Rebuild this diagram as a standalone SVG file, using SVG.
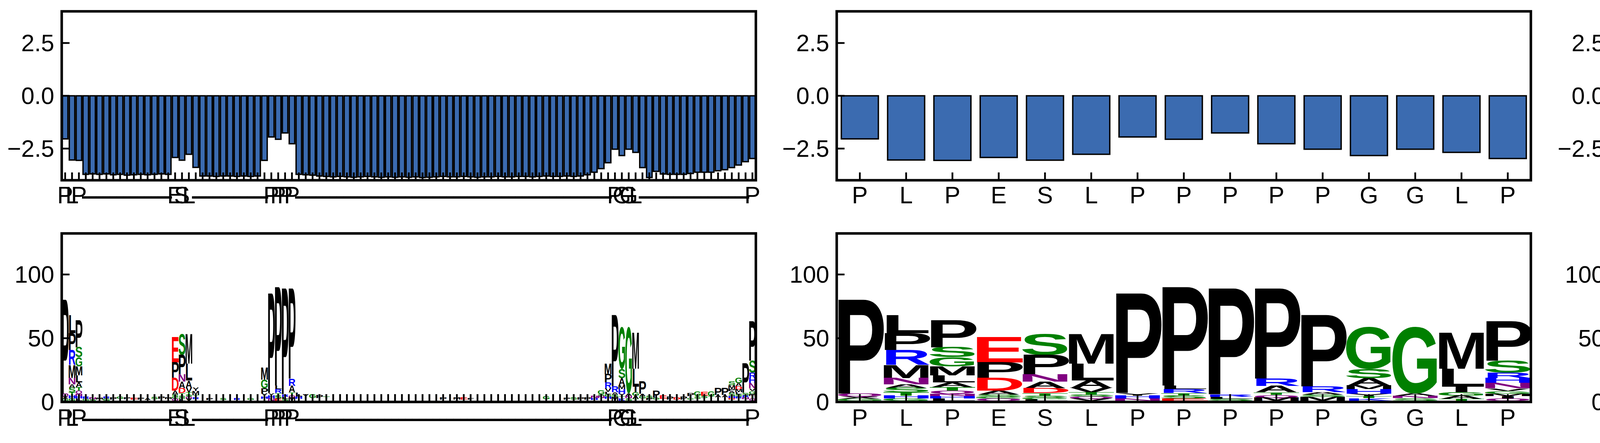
<svg xmlns="http://www.w3.org/2000/svg" xmlns:xlink="http://www.w3.org/1999/xlink" width="5933" height="1133" viewBox="0 0 5933 1133">
<style>
text{font-family:"Liberation Sans",Arial,sans-serif;font-weight:bold;font-size:100px;text-anchor:middle}
.lab{font-weight:normal;font-size:61px;fill:#000}
.dsh{font-size:78px}
.yl{text-anchor:end}
.k{fill:#000}.g{fill:#008000}.b{fill:#0000ff}.r{fill:#ff0000}.p{fill:#800080}
.bar rect{fill:#3b6bb0;stroke:#000;stroke-width:3.5}
.sp{fill:none;stroke:#000;stroke-width:6.5}
.tk{fill:none;stroke:#000;stroke-width:4.5}
</style>
<defs>
<path id="xt1" d="M166.8 0v20M184.4 0v20M202 0v20M219.6 0v20M237.2 0v20M254.8 0v20M272.4 0v20M290 0v20M307.5 0v20M325.1 0v20M342.7 0v20M360.3 0v20M377.9 0v20M395.5 0v20M413.1 0v20M430.7 0v20M448.3 0v20M465.9 0v20M483.5 0v20M501.1 0v20M518.7 0v20M536.3 0v20M553.9 0v20M571.5 0v20M589.1 0v20M606.6 0v20M624.2 0v20M641.8 0v20M659.4 0v20M677 0v20M694.6 0v20M712.2 0v20M729.8 0v20M747.4 0v20M765 0v20M782.6 0v20M800.2 0v20M817.8 0v20M835.4 0v20M853 0v20M870.6 0v20M888.1 0v20M905.7 0v20M923.3 0v20M940.9 0v20M958.5 0v20M976.1 0v20M993.7 0v20M1011.3 0v20M1028.9 0v20M1046.5 0v20M1064.1 0v20M1081.7 0v20M1099.3 0v20M1116.9 0v20M1134.5 0v20M1152.1 0v20M1169.6 0v20M1187.2 0v20M1204.8 0v20M1222.4 0v20M1240 0v20M1257.6 0v20M1275.2 0v20M1292.8 0v20M1310.4 0v20M1328 0v20M1345.6 0v20M1363.2 0v20M1380.8 0v20M1398.4 0v20M1416 0v20M1433.6 0v20M1451.1 0v20M1468.7 0v20M1486.3 0v20M1503.9 0v20M1521.5 0v20M1539.1 0v20M1556.7 0v20M1574.3 0v20M1591.9 0v20M1609.5 0v20M1627.1 0v20M1644.7 0v20M1662.3 0v20M1679.9 0v20M1697.5 0v20M1715.1 0v20M1732.6 0v20M1750.2 0v20M1767.8 0v20M1785.4 0v20M1803 0v20M1820.6 0v20M1838.2 0v20M1855.8 0v20M1873.4 0v20M1891 0v20M1908.6 0v20M1926.2 0v20"/>
<path id="xt2" d="M2201.2 0v20M2319.7 0v20M2438.2 0v20M2556.7 0v20M2675.2 0v20M2793.6 0v20M2912.1 0v20M3030.6 0v20M3149.1 0v20M3267.5 0v20M3386 0v20M3504.5 0v20M3623 0v20M3741.4 0v20M3859.9 0v20"/>
<g id="m0">
<text class="k" transform="matrix(2.045 0 0 3.488 0 1006.7)">P</text>
<text class="p" transform="matrix(1.585 0 0 .106 0 1014)">Q</text>
<text class="k" transform="matrix(1.687 0 0 .087 0 1020)">X</text>
<text class="g" transform="matrix(1.679 0 0 .073 0 1025)">G</text>
</g>
<g id="m1">
<text class="k" transform="matrix(2.083 0 0 .669 0 851.7)">L</text>
<text class="k" transform="matrix(2.045 0 0 .629 0 895)">P</text>
<text class="b" transform="matrix(1.739 0 0 .557 0 933.3)">R</text>
<text class="k" transform="matrix(1.63 0 0 .485 0 966.7)">M</text>
<text class="p" transform="matrix(1.94 0 0 .233 0 982.7)">N</text>
<text class="k" transform="matrix(1.563 0 0 .131 0 991.7)">A</text>
<text class="g" transform="matrix(1.92 0 0 .169 0 1003.3)">S</text>
<text class="g" transform="matrix(1.97 0 0 .122 0 1011.7)">T</text>
<text class="b" transform="matrix(1.94 0 0 .11 0 1019.3)">H</text>
<text class="g" transform="matrix(1.679 0 0 .083 0 1025)">G</text>
</g>
<g id="m2">
<text class="k" transform="matrix(2.045 0 0 1.007 0 888.3)">P</text>
<text class="g" transform="matrix(1.92 0 0 .363 0 913.3)">S</text>
<text class="g" transform="matrix(1.679 0 0 .34 0 936.7)">G</text>
<text class="k" transform="matrix(1.63 0 0 .339 0 960)">M</text>
<text class="k" transform="matrix(2.083 0 0 .266 0 978.3)">L</text>
<text class="k" transform="matrix(1.563 0 0 .17 0 990)">A</text>
<text class="g" transform="matrix(1.97 0 0 .135 0 999.3)">T</text>
<text class="p" transform="matrix(1.585 0 0 .108 0 1006.7)">Q</text>
<text class="p" transform="matrix(1.94 0 0 .087 0 1012.7)">N</text>
<text class="b" transform="matrix(1.94 0 0 .096 0 1019.3)">H</text>
<text class="k" transform="matrix(2.083 0 0 .083 0 1025)">L</text>
</g>
<g id="m3">
<text class="r" transform="matrix(2.083 0 0 .945 0 926.7)">E</text>
<text class="k" transform="matrix(2.045 0 0 .571 0 966)">P</text>
<text class="r" transform="matrix(1.875 0 0 .484 0 999.3)">D</text>
<text class="k" transform="matrix(1.563 0 0 .145 0 1009.3)">A</text>
<text class="g" transform="matrix(1.92 0 0 .083 0 1015)">S</text>
<text class="g" transform="matrix(1.679 0 0 .0625 0 1019.3)">G</text>
<text class="p" transform="matrix(1.585 0 0 .083 0 1025)">Q</text>
</g>
<g id="m4">
<text class="g" transform="matrix(1.92 0 0 .751 0 906.7)">S</text>
<text class="k" transform="matrix(2.045 0 0 .727 0 956.7)">P</text>
<text class="p" transform="matrix(1.94 0 0 .281 0 976)">N</text>
<text class="k" transform="matrix(1.563 0 0 .243 0 992.7)">A</text>
<text class="r" transform="matrix(1.875 0 0 .179 0 1005)">D</text>
<text class="g" transform="matrix(1.97 0 0 .097 0 1011.7)">T</text>
<text class="g" transform="matrix(1.92 0 0 .073 0 1016.7)">S</text>
<text class="g" transform="matrix(1.679 0 0 .058 0 1020.7)">G</text>
<text class="k" transform="matrix(2.083 0 0 .0625 0 1025)">L</text>
</g>
<g id="m5">
<text class="k" transform="matrix(1.63 0 0 1.09 0 930)">M</text>
<text class="k" transform="matrix(2.083 0 0 .629 0 973.3)">L</text>
<text class="k" transform="matrix(1.563 0 0 .267 0 991.7)">A</text>
<text class="k" transform="matrix(1.687 0 0 .169 0 1003.3)">V</text>
<text class="g" transform="matrix(1.97 0 0 .087 0 1009.3)">T</text>
<text class="g" transform="matrix(1.92 0 0 .068 0 1014)">S</text>
<text class="p" transform="matrix(1.585 0 0 .077 0 1019.3)">Q</text>
<text class="k" transform="matrix(1.687 0 0 .083 0 1025)">V</text>
</g>
<g id="m6">
<text class="k" transform="matrix(2.045 0 0 3.696 0 1005)">P</text>
<text class="k" transform="matrix(1.687 0 0 .097 0 1011.7)">Y</text>
<text class="b" transform="matrix(1.94 0 0 .11 0 1019.3)">H</text>
<text class="p" transform="matrix(1.94 0 0 .083 0 1025)">N</text>
</g>
<g id="m7">
<text class="k" transform="matrix(2.045 0 0 3.654 0 986)">P</text>
<text class="k" transform="matrix(2.083 0 0 .131 0 995)">L</text>
<text class="b" transform="matrix(1.739 0 0 .145 0 1005)">R</text>
<text class="g" transform="matrix(1.97 0 0 .097 0 1011.7)">T</text>
<text class="g" transform="matrix(1.92 0 0 .106 0 1019)">S</text>
<text class="r" transform="matrix(2.083 0 0 .087 0 1025)">E</text>
</g>
<g id="m8">
<text class="k" transform="matrix(2.045 0 0 3.929 0 1008.3)">P</text>
<text class="b" transform="matrix(1.739 0 0 .097 0 1015)">R</text>
<text class="k" transform="matrix(2.083 0 0 .073 0 1020)">L</text>
<text class="g" transform="matrix(1.92 0 0 .073 0 1025)">S</text>
</g>
<g id="m9">
<text class="k" transform="matrix(2.045 0 0 3.347 0 968.3)">P</text>
<text class="b" transform="matrix(1.739 0 0 .267 0 986.7)">R</text>
<text class="k" transform="matrix(1.563 0 0 .241 0 1003.3)">A</text>
<text class="g" transform="matrix(1.97 0 0 .097 0 1010)">T</text>
<text class="p" transform="matrix(1.585 0 0 .097 0 1016.7)">Q</text>
<text class="k" transform="matrix(1.63 0 0 .121 0 1025)">M</text>
</g>
<g id="m10">
<text class="k" transform="matrix(2.045 0 0 2.654 0 988.3)">P</text>
<text class="b" transform="matrix(1.739 0 0 .218 0 1003.3)">R</text>
<text class="k" transform="matrix(1.563 0 0 .087 0 1009.3)">A</text>
<text class="g" transform="matrix(1.92 0 0 .083 0 1015)">S</text>
<text class="k" transform="matrix(1.63 0 0 .145 0 1025)">M</text>
</g>
<g id="m11">
<text class="g" transform="matrix(1.679 0 0 1.516 0 943.3)">G</text>
<text class="g" transform="matrix(1.92 0 0 .34 0 966.7)">S</text>
<text class="k" transform="matrix(1.563 0 0 .266 0 985)">A</text>
<text class="k" transform="matrix(1.63 0 0 .145 0 995)">M</text>
<text class="b" transform="matrix(1.94 0 0 .17 0 1006.7)">H</text>
<text class="k" transform="matrix(1.687 0 0 .096 0 1013.3)">Y</text>
<text class="g" transform="matrix(1.97 0 0 .073 0 1018.3)">T</text>
<text class="b" transform="matrix(1.725 0 0 .097 0 1025)">K</text>
</g>
<g id="m12">
<text class="g" transform="matrix(1.679 0 0 2.413 0 1005)">G</text>
<text class="k" transform="matrix(1.563 0 0 .097 0 1011.7)">A</text>
<text class="p" transform="matrix(1.94 0 0 .096 0 1018.3)">N</text>
<text class="g" transform="matrix(1.92 0 0 .097 0 1025)">S</text>
</g>
<g id="m13">
<text class="k" transform="matrix(1.63 0 0 1.331 0 943.3)">M</text>
<text class="k" transform="matrix(2.083 0 0 .669 0 989.3)">L</text>
<text class="k" transform="matrix(2.083 0 0 .203 0 1003.3)">I</text>
<text class="g" transform="matrix(1.679 0 0 .122 0 1011.7)">G</text>
<text class="k" transform="matrix(1.563 0 0 .121 0 1020)">A</text>
<text class="g" transform="matrix(1.97 0 0 .073 0 1025)">T</text>
</g>
<g id="m14">
<text class="k" transform="matrix(2.045 0 0 1.468 0 922.7)">P</text>
<text class="g" transform="matrix(1.92 0 0 .445 0 953.3)">S</text>
<text class="b" transform="matrix(1.739 0 0 .195 0 966.7)">R</text>
<text class="b" transform="matrix(1.94 0 0 .183 0 979.3)">H</text>
<text class="p" transform="matrix(1.94 0 0 .203 0 993.3)">N</text>
<text class="k" transform="matrix(1.687 0 0 .097 0 1000)">V</text>
<text class="g" transform="matrix(1.679 0 0 .097 0 1006.7)">G</text>
<text class="k" transform="matrix(1.63 0 0 .096 0 1013.3)">M</text>
<text class="k" transform="matrix(2.083 0 0 .083 0 1019)">I</text>
<text class="p" transform="matrix(1.585 0 0 .087 0 1025)">Q</text>
</g>
</defs>
<rect width="5933" height="1133" fill="#fff"/>

<g id="panel-top-1">
<g class="bar" transform="translate(0 245)">
<rect x="159.8" width="14.07" height="110.2"/><rect x="177.4" width="14.07" height="164.2"/><rect x="195" width="14.07" height="165.2"/><rect x="212.5" width="14.07" height="200.9"/><rect x="230.1" width="14.07" height="199.8"/><rect x="247.7" width="14.07" height="200.9"/><rect x="265.3" width="14.07" height="199.8"/><rect x="282.9" width="14.07" height="202"/><rect x="300.5" width="14.07" height="200.9"/><rect x="318.1" width="14.07" height="203"/>
<rect x="335.7" width="14.07" height="202"/><rect x="353.3" width="14.07" height="200.9"/><rect x="370.9" width="14.07" height="202"/><rect x="388.5" width="14.07" height="200.9"/><rect x="406.1" width="14.07" height="199.8"/><rect x="423.7" width="14.07" height="200.9"/><rect x="441.3" width="14.07" height="157.7"/><rect x="458.9" width="14.07" height="164.7"/><rect x="476.5" width="14.07" height="149.6"/><rect x="494" width="14.07" height="183.1"/>
<rect x="511.6" width="14.07" height="205.2"/><rect x="529.2" width="14.07" height="205.2"/><rect x="546.8" width="14.07" height="206.3"/><rect x="564.4" width="14.07" height="205.2"/><rect x="582" width="14.07" height="205.2"/><rect x="599.6" width="14.07" height="206.3"/><rect x="617.2" width="14.07" height="205.2"/><rect x="634.8" width="14.07" height="206.3"/><rect x="652.4" width="14.07" height="205.2"/><rect x="670" width="14.07" height="165.2"/>
<rect x="687.6" width="14.07" height="105.3"/><rect x="705.2" width="14.07" height="111.2"/><rect x="722.8" width="14.07" height="95"/><rect x="740.4" width="14.07" height="122.6"/><rect x="758" width="14.07" height="200.9"/><rect x="775.6" width="14.07" height="202"/><rect x="793.1" width="14.07" height="203"/><rect x="810.7" width="14.07" height="205.2"/><rect x="828.3" width="14.07" height="206.3"/><rect x="845.9" width="14.07" height="207.4"/>
<rect x="863.5" width="14.07" height="206.3"/><rect x="881.1" width="14.07" height="207.4"/><rect x="898.7" width="14.07" height="208.4"/><rect x="916.3" width="14.07" height="207.4"/><rect x="933.9" width="14.07" height="206.3"/><rect x="951.5" width="14.07" height="207.4"/><rect x="969.1" width="14.07" height="208.4"/><rect x="986.7" width="14.07" height="207.4"/><rect x="1004.3" width="14.07" height="208.4"/><rect x="1021.9" width="14.07" height="207.4"/>
<rect x="1039.5" width="14.07" height="208.4"/><rect x="1057.1" width="14.07" height="207.4"/><rect x="1074.6" width="14.07" height="209"/><rect x="1092.2" width="14.07" height="208.4"/><rect x="1109.8" width="14.07" height="207.4"/><rect x="1127.4" width="14.07" height="206.3"/><rect x="1145" width="14.07" height="207.4"/><rect x="1162.6" width="14.07" height="207.4"/><rect x="1180.2" width="14.07" height="206.3"/><rect x="1197.8" width="14.07" height="207.4"/>
<rect x="1215.4" width="14.07" height="208.4"/><rect x="1233" width="14.07" height="207.4"/><rect x="1250.6" width="14.07" height="207.4"/><rect x="1268.2" width="14.07" height="206.3"/><rect x="1285.8" width="14.07" height="207.4"/><rect x="1303.4" width="14.07" height="207.4"/><rect x="1321" width="14.07" height="206.3"/><rect x="1338.6" width="14.07" height="206.3"/><rect x="1356.2" width="14.07" height="207.4"/><rect x="1373.7" width="14.07" height="206.3"/>
<rect x="1391.3" width="14.07" height="205.2"/><rect x="1408.9" width="14.07" height="206.3"/><rect x="1426.5" width="14.07" height="206.3"/><rect x="1444.1" width="14.07" height="205.2"/><rect x="1461.7" width="14.07" height="206.3"/><rect x="1479.3" width="14.07" height="205.2"/><rect x="1496.9" width="14.07" height="202"/><rect x="1514.5" width="14.07" height="195.5"/><rect x="1532.1" width="14.07" height="186.3"/><rect x="1549.7" width="14.07" height="171.2"/>
<rect x="1567.3" width="14.07" height="136.6"/><rect x="1584.9" width="14.07" height="152.8"/><rect x="1602.5" width="14.07" height="136.6"/><rect x="1620.1" width="14.07" height="144.7"/><rect x="1637.7" width="14.07" height="183.6"/><rect x="1655.2" width="14.07" height="209"/><rect x="1672.8" width="14.07" height="193.3"/><rect x="1690.4" width="14.07" height="200"/><rect x="1708" width="14.07" height="200.9"/><rect x="1725.6" width="14.07" height="200.9"/>
<rect x="1743.2" width="14.07" height="200.9"/><rect x="1760.8" width="14.07" height="198.7"/><rect x="1778.4" width="14.07" height="195.5"/><rect x="1796" width="14.07" height="195.5"/><rect x="1813.6" width="14.07" height="195.5"/><rect x="1831.2" width="14.07" height="191.7"/><rect x="1848.8" width="14.07" height="189"/><rect x="1866.4" width="14.07" height="183.6"/><rect x="1884" width="14.07" height="177.1"/><rect x="1901.6" width="14.07" height="168.5"/>
<rect x="1919.2" width="14.07" height="160.4"/>
</g>
<use href="#xt1" class="tk" transform="translate(0 441)"/>
<path class="tk" d="M158 110h20M158 245h20M158 380h20"/>
<rect class="sp" x="158" y="29" width="1777" height="432"/>
<text class="lab yl" x="139" y="131">2.5</text>
<text class="lab yl" x="139" y="266">0.0</text>
<text class="lab yl" x="139" y="401">−2.5</text>
<text class="lab" y="520" x="166.8 184.4 202 219.6 237.2 254.8 272.4 290 307.5 325.1 342.7 360.3 377.9 395.5 413.1 430.7 448.3 465.9 483.5 501.1 518.7 536.3 553.9 571.5 589.1 606.6 624.2 641.8 659.4 677 694.6 712.2 729.8 747.4 765 782.6 800.2 817.8 835.4 853 870.6 888.1 905.7 923.3 940.9 958.5 976.1 993.7 1011.3 1028.9 1046.5 1064.1 1081.7 1099.3 1116.9 1134.5 1152.1 1169.6 1187.2 1204.8 1222.4 1240 1257.6 1275.2 1292.8 1310.4 1328 1345.6 1363.2 1380.8 1398.4 1416 1433.6 1451.1 1468.7 1486.3 1503.9 1521.5 1539.1 1556.7 1574.3 1591.9 1609.5 1627.1 1644.7 1662.3 1679.9 1697.5 1715.1 1732.6 1750.2 1767.8 1785.4 1803 1820.6 1838.2 1855.8 1873.4 1891 1908.6 1926.2">PLP<tspan class="dsh" dy="6">-------------</tspan><tspan dy="-6">ESL</tspan><tspan class="dsh" dy="6">-----------</tspan><tspan dy="-6">PPPP</tspan><tspan class="dsh" dy="6">----------------------------------------------</tspan><tspan dy="-6">PGGL</tspan><tspan class="dsh" dy="6">----------------</tspan><tspan dy="-6">P</tspan></text>
</g>

<g id="panel-top-2">
<g class="bar" transform="translate(0 245)">
<rect x="2153.8" width="94.8" height="110.2"/><rect x="2272.3" width="94.8" height="164.2"/><rect x="2390.8" width="94.8" height="165.2"/><rect x="2509.3" width="94.8" height="157.7"/><rect x="2627.8" width="94.8" height="164.7"/><rect x="2746.2" width="94.8" height="149.6"/><rect x="2864.7" width="94.8" height="105.3"/><rect x="2983.2" width="94.8" height="111.2"/><rect x="3101.7" width="94.8" height="95"/><rect x="3220.1" width="94.8" height="122.6"/><rect x="3338.6" width="94.8" height="136.6"/><rect x="3457.1" width="94.8" height="152.8"/><rect x="3575.6" width="94.8" height="136.6"/><rect x="3694" width="94.8" height="144.7"/><rect x="3812.5" width="94.8" height="160.4"/>
</g>
<use href="#xt2" class="tk" transform="translate(0 441)"/>
<path class="tk" d="M2142 110h20M2142 245h20M2142 380h20"/>
<rect class="sp" x="2142" y="29" width="1777" height="432"/>
<text class="lab yl" x="2123" y="131">2.5</text>
<text class="lab yl" x="2123" y="266">0.0</text>
<text class="lab yl" x="2123" y="401">−2.5</text>
<text class="lab" y="520" x="2201.2 2319.7 2438.2 2556.7 2675.2 2793.6 2912.1 3030.6 3149.1 3267.5 3386 3504.5 3623 3741.4 3859.9">PLPESLPPPPPGGLP</text>
</g>

<g id="panel-top-3">
<g class="bar" transform="translate(0 245)">
<rect x="4138.8" y="-16.7" width="94.8" height="16.7"/><rect x="4257.3" width="94.8" height="44.8"/><rect x="4375.8" width="94.8" height="24.8"/><rect x="4494.3" width="94.8" height="88"/><rect x="4612.8" width="94.8" height="72.4"/><rect x="4731.2" width="94.8" height="13.5"/><rect x="4849.7" y="-41.6" width="94.8" height="41.6"/><rect x="4968.2" y="-63.2" width="94.8" height="63.2"/><rect x="5086.7" y="-72.9" width="94.8" height="72.9"/><rect x="5205.1" y="-56.7" width="94.8" height="56.7"/><rect x="5323.6" y="-43.2" width="94.8" height="43.2"/><rect x="5442.1" width="94.8" height="45.9"/><rect x="5560.6" width="94.8" height="37.8"/><rect x="5679" width="94.8" height="1.1"/><rect x="5797.5" width="94.8" height="17.8"/>
</g>
<use href="#xt2" class="tk" transform="translate(1985 441)"/>
<path class="tk" d="M4127 110h20M4127 245h20M4127 380h20"/>
<rect class="sp" x="4127" y="29" width="1777" height="432"/>
<text class="lab yl" x="4108" y="131">2.5</text>
<text class="lab yl" x="4108" y="266">0.0</text>
<text class="lab yl" x="4108" y="401">−2.5</text>
<text class="lab" y="520" x="4186.2 4304.7 4423.2 4541.7 4660.2 4778.6 4897.1 5015.6 5134.1 5252.5 5371 5489.5 5608 5726.4 5844.9">PLPESLPPPPPGGLP</text>
</g>

<g id="panel-bottom-1">
<use href="#m0" transform="translate(166.8 0) scale(.1485 1)"/>
<use href="#m1" transform="translate(184.4 0) scale(.1485 1)"/>
<use href="#m2" transform="translate(202 0) scale(.1485 1)"/>
<use href="#m3" transform="translate(448.3 0) scale(.1485 1)"/>
<use href="#m4" transform="translate(465.9 0) scale(.1485 1)"/>
<use href="#m5" transform="translate(483.5 0) scale(.1485 1)"/>
<use href="#m6" transform="translate(694.6 0) scale(.1485 1)"/>
<use href="#m7" transform="translate(712.2 0) scale(.1485 1)"/>
<use href="#m8" transform="translate(729.8 0) scale(.1485 1)"/>
<use href="#m9" transform="translate(747.4 0) scale(.1485 1)"/>
<use href="#m10" transform="translate(1574.3 0) scale(.1485 1)"/>
<use href="#m11" transform="translate(1591.9 0) scale(.1485 1)"/>
<use href="#m12" transform="translate(1609.5 0) scale(.1485 1)"/>
<use href="#m13" transform="translate(1627.1 0) scale(.1485 1)"/>
<use href="#m14" transform="translate(1926.2 0) scale(.1485 1)"/>
<g transform="translate(219.6 0) scale(.1485 1)"><text class="b" transform="matrix(1.739 0 0 .087 0 1020)">R</text><text class="g" transform="matrix(1.679 0 0 .073 0 1025)">G</text></g>
<g transform="translate(237.2 0) scale(.1485 1)"><text class="p" transform="matrix(1.94 0 0 .073 0 1021)">N</text><text class="g" transform="matrix(1.92 0 0 .058 0 1025)">S</text></g>
<g transform="translate(254.8 0) scale(.1485 1)"><text class="k" transform="matrix(1.63 0 0 .073 0 1022)">M</text></g>
<g transform="translate(272.4 0) scale(.1485 1)"><text class="b" transform="matrix(1.739 0 0 .073 0 1019)">R</text><text class="g" transform="matrix(1.679 0 0 .087 0 1025)">G</text></g>
<g transform="translate(290 0) scale(.1485 1)"><text class="k" transform="matrix(2.045 0 0 .087 0 1022)">P</text></g>
<g transform="translate(307.5 0) scale(.1485 1)"><text class="g" transform="matrix(1.679 0 0 .087 0 1020)">G</text></g>
<g transform="translate(325.1 0) scale(.1485 1)"><text class="k" transform="matrix(2.045 0 0 .073 0 1021)">P</text></g>
<g transform="translate(342.7 0) scale(.1485 1)"><text class="r" transform="matrix(2.083 0 0 .073 0 1022)">E</text></g>
<g transform="translate(360.3 0) scale(.1485 1)"><text class="k" transform="matrix(2.045 0 0 .073 0 1022)">P</text></g>
<g transform="translate(377.9 0) scale(.1485 1)"><text class="k" transform="matrix(1.563 0 0 .073 0 1023)">A</text></g>
<g transform="translate(395.5 0) scale(.1485 1)"><text class="g" transform="matrix(1.92 0 0 .087 0 1021)">S</text></g>
<g transform="translate(413.1 0) scale(.1485 1)"><text class="k" transform="matrix(2.045 0 0 .087 0 1020)">P</text></g>
<g transform="translate(430.7 0) scale(.1485 1)"><text class="k" transform="matrix(1.63 0 0 .073 0 1021)">M</text></g>
<g transform="translate(501.1 0) scale(.1485 1)"><text class="k" transform="matrix(1.687 0 0 .131 0 1000)">Y</text><text class="k" transform="matrix(1.63 0 0 .145 0 1010)">M</text><text class="g" transform="matrix(1.97 0 0 .087 0 1016)">T</text><text class="b" transform="matrix(1.739 0 0 .073 0 1021)">R</text></g>
<g transform="translate(536.3 0) scale(.1485 1)"><text class="k" transform="matrix(2.045 0 0 .073 0 1023)">P</text></g>
<g transform="translate(571.5 0) scale(.1485 1)"><text class="g" transform="matrix(1.92 0 0 .073 0 1023)">S</text></g>
<g transform="translate(606.6 0) scale(.1485 1)"><text class="b" transform="matrix(1.739 0 0 .073 0 1023)">R</text></g>
<g transform="translate(641.8 0) scale(.1485 1)"><text class="g" transform="matrix(1.679 0 0 .073 0 1023)">G</text></g>
<g transform="translate(677 0) scale(.1485 1)"><text class="k" transform="matrix(1.63 0 0 .451 0 971)">M</text><text class="g" transform="matrix(1.679 0 0 .32 0 993)">G</text><text class="k" transform="matrix(2.045 0 0 .203 0 1007)">P</text><text class="k" transform="matrix(1.687 0 0 .102 0 1014)">Y</text><text class="b" transform="matrix(1.94 0 0 .087 0 1020)">H</text></g>
<g transform="translate(765 0) scale(.1485 1)"><text class="k" transform="matrix(2.083 0 0 .145 0 1014)">L</text><text class="b" transform="matrix(1.94 0 0 .087 0 1020)">H</text></g>
<g transform="translate(782.6 0) scale(.1485 1)"><text class="k" transform="matrix(1.687 0 0 .116 0 1016)">Y</text></g>
<g transform="translate(800.2 0) scale(.1485 1)"><text class="g" transform="matrix(1.679 0 0 .145 0 1018)">G</text></g>
<g transform="translate(817.8 0) scale(.1485 1)"><text class="k" transform="matrix(2.045 0 0 .116 0 1018)">P</text></g>
<g transform="translate(835.4 0) scale(.1485 1)"><text class="g" transform="matrix(1.97 0 0 .087 0 1020)">T</text></g>
<g transform="translate(1134.5 0) scale(.1485 1)"><text class="k" transform="matrix(2.045 0 0 .087 0 1022)">P</text></g>
<g transform="translate(1169.6 0) scale(.1485 1)"><text class="k" transform="matrix(1.63 0 0 .087 0 1022)">M</text></g>
<g transform="translate(1187.2 0) scale(.1485 1)"><text class="r" transform="matrix(2.083 0 0 .087 0 1022)">E</text></g>
<g transform="translate(1204.8 0) scale(.1485 1)"><text class="k" transform="matrix(2.083 0 0 .058 0 1022)">F</text></g>
<g transform="translate(1398.4 0) scale(.1485 1)"><text class="g" transform="matrix(1.679 0 0 .102 0 1021)">G</text></g>
<g transform="translate(1451.1 0) scale(.1485 1)"><text class="k" transform="matrix(2.045 0 0 .073 0 1022)">P</text></g>
<g transform="translate(1468.7 0) scale(.1485 1)"><text class="g" transform="matrix(1.92 0 0 .087 0 1022)">S</text></g>
<g transform="translate(1486.3 0) scale(.1485 1)"><text class="k" transform="matrix(2.045 0 0 .087 0 1022)">P</text></g>
<g transform="translate(1503.9 0) scale(.1485 1)"><text class="k" transform="matrix(2.045 0 0 .087 0 1022)">P</text></g>
<g transform="translate(1521.5 0) scale(.1485 1)"><text class="p" transform="matrix(1.94 0 0 .092 0 1018)">N</text><text class="b" transform="matrix(1.94 0 0 .073 0 1023)">H</text></g>
<g transform="translate(1539.1 0) scale(.1485 1)"><text class="g" transform="matrix(1.679 0 0 .145 0 1008)">G</text><text class="g" transform="matrix(1.92 0 0 .058 0 1012)">S</text><text class="p" transform="matrix(1.94 0 0 .087 0 1018)">N</text></g>
<g transform="translate(1556.7 0) scale(.1485 1)"><text class="k" transform="matrix(1.63 0 0 .388 0 956.7)">M</text><text class="k" transform="matrix(2.045 0 0 .314 0 978.3)">P</text><text class="b" transform="matrix(1.739 0 0 .218 0 993.3)">R</text><text class="k" transform="matrix(1.687 0 0 .122 0 1001.7)">V</text><text class="k" transform="matrix(2.083 0 0 .092 0 1008)">L</text><text class="g" transform="matrix(1.679 0 0 .087 0 1014)">G</text><text class="b" transform="matrix(1.94 0 0 .087 0 1020)">H</text></g>
<g transform="translate(1644.7 0) scale(.1485 1)"><text class="k" transform="matrix(2.045 0 0 .461 0 1006.7)">P</text><text class="k" transform="matrix(1.563 0 0 .092 0 1013)">A</text><text class="g" transform="matrix(1.679 0 0 .087 0 1019)">G</text></g>
<g transform="translate(1662.3 0) scale(.1485 1)"><text class="g" transform="matrix(1.92 0 0 .087 0 1018)">S</text><text class="k" transform="matrix(2.045 0 0 .073 0 1023)">P</text></g>
<g transform="translate(1679.9 0) scale(.1485 1)"><text class="k" transform="matrix(2.045 0 0 .267 0 1016.7)">P</text><text class="g" transform="matrix(1.679 0 0 .077 0 1022)">G</text></g>
<g transform="translate(1697.5 0) scale(.1485 1)"><text class="r" transform="matrix(2.083 0 0 .121 0 1020)">E</text></g>
<g transform="translate(1715.1 0) scale(.1485 1)"><text class="k" transform="matrix(2.045 0 0 .116 0 1022)">P</text></g>
<g transform="translate(1732.6 0) scale(.1485 1)"><text class="r" transform="matrix(1.875 0 0 .087 0 1022)">D</text></g>
<g transform="translate(1750.2 0) scale(.1485 1)"><text class="k" transform="matrix(2.045 0 0 .102 0 1022)">P</text></g>
<g transform="translate(1767.8 0) scale(.1485 1)"><text class="k" transform="matrix(2.045 0 0 .116 0 1013)">P</text><text class="k" transform="matrix(2.083 0 0 .073 0 1018)">I</text><text class="g" transform="matrix(1.679 0 0 .058 0 1022)">G</text></g>
<g transform="translate(1785.4 0) scale(.1485 1)"><text class="g" transform="matrix(1.679 0 0 .169 0 1013.3)">G</text><text class="g" transform="matrix(1.92 0 0 .097 0 1020)">S</text></g>
<g transform="translate(1803 0) scale(.1485 1)"><text class="r" transform="matrix(2.083 0 0 .145 0 1011.7)">E</text><text class="g" transform="matrix(1.92 0 0 .092 0 1018)">S</text></g>
<g transform="translate(1820.6 0) scale(.1485 1)"><text class="g" transform="matrix(1.679 0 0 .169 0 1013.3)">G</text><text class="g" transform="matrix(1.97 0 0 .083 0 1019)">T</text></g>
<g transform="translate(1838.2 0) scale(.1485 1)"><text class="k" transform="matrix(2.045 0 0 .266 0 1010)">P</text><text class="k" transform="matrix(1.563 0 0 .087 0 1016)">A</text></g>
<g transform="translate(1855.8 0) scale(.1485 1)"><text class="k" transform="matrix(2.045 0 0 .266 0 1010)">P</text><text class="k" transform="matrix(1.563 0 0 .087 0 1016)">A</text></g>
<g transform="translate(1873.4 0) scale(.1485 1)"><text class="g" transform="matrix(1.92 0 0 .145 0 985)">S</text><text class="k" transform="matrix(1.63 0 0 .145 0 995)">M</text><text class="k" transform="matrix(2.045 0 0 .073 0 1000)">P</text><text class="k" transform="matrix(1.563 0 0 .073 0 1005)">A</text><text class="g" transform="matrix(1.92 0 0 .116 0 1013)">S</text><text class="b" transform="matrix(1.94 0 0 .073 0 1018)">H</text><text class="r" transform="matrix(1.875 0 0 .058 0 1022)">D</text></g>
<g transform="translate(1891 0) scale(.1485 1)"><text class="g" transform="matrix(1.679 0 0 .193 0 980)">G</text><text class="k" transform="matrix(1.563 0 0 .121 0 988.3)">A</text><text class="r" transform="matrix(1.875 0 0 .112 0 996)">D</text><text class="k" transform="matrix(1.63 0 0 .106 0 1003.3)">M</text><text class="k" transform="matrix(2.083 0 0 .068 0 1008)">L</text><text class="g" transform="matrix(1.92 0 0 .087 0 1014)">S</text><text class="b" transform="matrix(1.739 0 0 .073 0 1019)">R</text></g>
<g transform="translate(1908.6 0) scale(.1485 1)"><text class="k" transform="matrix(2.045 0 0 1.09 0 1005)">P</text><text class="g" transform="matrix(1.92 0 0 .087 0 1011)">S</text><text class="b" transform="matrix(1.739 0 0 .073 0 1016)">R</text><text class="p" transform="matrix(1.94 0 0 .073 0 1021)">N</text></g>
<use href="#xt1" class="tk" transform="translate(0 1008)"/>
<path class="tk" d="M158 702h20M158 865h20"/>
<rect class="sp" x="158" y="597" width="1777" height="431"/>
<text class="lab yl" x="139" y="723">100</text>
<text class="lab yl" x="139" y="886">50</text>
<text class="lab yl" x="139" y="1049">0</text>
<text class="lab" y="1089" x="166.8 184.4 202 219.6 237.2 254.8 272.4 290 307.5 325.1 342.7 360.3 377.9 395.5 413.1 430.7 448.3 465.9 483.5 501.1 518.7 536.3 553.9 571.5 589.1 606.6 624.2 641.8 659.4 677 694.6 712.2 729.8 747.4 765 782.6 800.2 817.8 835.4 853 870.6 888.1 905.7 923.3 940.9 958.5 976.1 993.7 1011.3 1028.9 1046.5 1064.1 1081.7 1099.3 1116.9 1134.5 1152.1 1169.6 1187.2 1204.8 1222.4 1240 1257.6 1275.2 1292.8 1310.4 1328 1345.6 1363.2 1380.8 1398.4 1416 1433.6 1451.1 1468.7 1486.3 1503.9 1521.5 1539.1 1556.7 1574.3 1591.9 1609.5 1627.1 1644.7 1662.3 1679.9 1697.5 1715.1 1732.6 1750.2 1767.8 1785.4 1803 1820.6 1838.2 1855.8 1873.4 1891 1908.6 1926.2">PLP<tspan class="dsh" dy="6">-------------</tspan><tspan dy="-6">ESL</tspan><tspan class="dsh" dy="6">-----------</tspan><tspan dy="-6">PPPP</tspan><tspan class="dsh" dy="6">----------------------------------------------</tspan><tspan dy="-6">PGGL</tspan><tspan class="dsh" dy="6">----------------</tspan><tspan dy="-6">P</tspan></text>
</g>

<g id="panel-bottom-2">
<use href="#m0" x="2201.2"/><use href="#m1" x="2319.7"/><use href="#m2" x="2438.2"/><use href="#m3" x="2556.7"/><use href="#m4" x="2675.2"/><use href="#m5" x="2793.6"/><use href="#m6" x="2912.1"/><use href="#m7" x="3030.6"/><use href="#m8" x="3149.1"/><use href="#m9" x="3267.5"/><use href="#m10" x="3386"/><use href="#m11" x="3504.5"/><use href="#m12" x="3623"/><use href="#m13" x="3741.4"/><use href="#m14" x="3859.9"/>
<use href="#xt2" class="tk" transform="translate(0 1008)"/>
<path class="tk" d="M2142 702h20M2142 865h20"/>
<rect class="sp" x="2142" y="597" width="1777" height="431"/>
<text class="lab yl" x="2123" y="723">100</text>
<text class="lab yl" x="2123" y="886">50</text>
<text class="lab yl" x="2123" y="1049">0</text>
<text class="lab" y="1089" x="2201.2 2319.7 2438.2 2556.7 2675.2 2793.6 2912.1 3030.6 3149.1 3267.5 3386 3504.5 3623 3741.4 3859.9">PLPESLPPPPPGGLP</text>
</g>

<g id="panel-bottom-3">
<g transform="translate(4186.2 0)">
<text class="k" transform="matrix(2.045 0 0 4.458 0 907.7)">P</text>
<text class="k" transform="matrix(1.63 0 0 .314 0 929.3)">M</text>
<text class="g" transform="matrix(1.97 0 0 .243 0 946)">T</text>
<text class="k" transform="matrix(2.083 0 0 .193 0 959.3)">L</text>
<text class="p" transform="matrix(1.94 0 0 .195 0 972.7)">N</text>
<text class="b" transform="matrix(1.94 0 0 .145 0 982.7)">H</text>
<text class="b" transform="matrix(1.739 0 0 .145 0 992.7)">R</text>
<text class="g" transform="matrix(1.679 0 0 .121 0 1001)">G</text>
<text class="g" transform="matrix(1.92 0 0 .097 0 1007.7)">S</text>
<text class="r" transform="matrix(1.875 0 0 .096 0 1014.3)">D</text>
<text class="b" transform="matrix(1.725 0 0 .073 0 1019.3)">K</text>
<text class="p" transform="matrix(1.585 0 0 .083 0 1025)">Q</text>
</g>
<g transform="translate(4304.7 0)">
<text class="k" transform="matrix(2.045 0 0 2.035 0 741)">P</text>
<text class="k" transform="matrix(2.083 0 0 1.366 0 835)">L</text>
<text class="k" transform="matrix(1.63 0 0 .862 0 894.3)">M</text>
<text class="k" transform="matrix(1.563 0 0 .34 0 917.7)">A</text>
<text class="k" transform="matrix(2.083 0 0 .218 0 932.7)">F</text>
<text class="b" transform="matrix(1.739 0 0 .314 0 954.3)">R</text>
<text class="g" transform="matrix(1.97 0 0 .17 0 966)">T</text>
<text class="k" transform="matrix(1.687 0 0 .291 0 986)">Y</text>
<text class="g" transform="matrix(1.92 0 0 .121 0 994.3)">S</text>
<text class="p" transform="matrix(1.94 0 0 .17 0 1006)">N</text>
<text class="b" transform="matrix(1.725 0 0 .145 0 1016)">K</text>
<text class="r" transform="matrix(2.083 0 0 .073 0 1021)">E</text>
<text class="g" transform="matrix(1.679 0 0 .058 0 1025)">G</text>
</g>
<g transform="translate(4423.2 0)">
<text class="k" transform="matrix(2.045 0 0 3.706 0 856)">P</text>
<text class="g" transform="matrix(1.92 0 0 .388 0 882.7)">S</text>
<text class="k" transform="matrix(2.083 0 0 .291 0 902.7)">L</text>
<text class="p" transform="matrix(1.94 0 0 .314 0 924.3)">N</text>
<text class="k" transform="matrix(2.083 0 0 .218 0 939.3)">F</text>
<text class="k" transform="matrix(1.63 0 0 .267 0 957.7)">M</text>
<text class="k" transform="matrix(1.563 0 0 .218 0 972.7)">A</text>
<text class="g" transform="matrix(1.97 0 0 .145 0 982.7)">T</text>
<text class="b" transform="matrix(1.725 0 0 .096 0 989.3)">K</text>
<text class="k" transform="matrix(2.083 0 0 .097 0 996)">I</text>
<text class="b" transform="matrix(1.94 0 0 .097 0 1002.7)">H</text>
<text class="g" transform="matrix(1.92 0 0 .145 0 1012.7)">S</text>
<text class="r" transform="matrix(2.083 0 0 .121 0 1021)">E</text>
<text class="p" transform="matrix(1.585 0 0 .058 0 1025)">Q</text>
</g>
<g transform="translate(4541.7 0)">
<text class="k" transform="matrix(2.045 0 0 1.744 0 721)">P</text>
<text class="r" transform="matrix(2.083 0 0 .824 0 777.7)">E</text>
<text class="r" transform="matrix(1.875 0 0 .557 0 816)">D</text>
<text class="k" transform="matrix(1.63 0 0 .388 0 842.7)">M</text>
<text class="k" transform="matrix(1.563 0 0 .314 0 864.3)">A</text>
<text class="g" transform="matrix(1.679 0 0 .34 0 887.7)">G</text>
<text class="p" transform="matrix(1.94 0 0 .339 0 911)">N</text>
<text class="p" transform="matrix(1.585 0 0 .266 0 929.3)">Q</text>
<text class="b" transform="matrix(1.725 0 0 .218 0 944.3)">K</text>
<text class="k" transform="matrix(2.083 0 0 .17 0 956)">L</text>
<text class="b" transform="matrix(1.739 0 0 .193 0 969.3)">R</text>
<text class="g" transform="matrix(1.92 0 0 .195 0 982.7)">S</text>
<text class="k" transform="matrix(1.687 0 0 .193 0 996)">Y</text>
<text class="g" transform="matrix(1.97 0 0 .218 0 1011)">T</text>
<text class="b" transform="matrix(1.94 0 0 .102 0 1018)">H</text>
<text class="k" transform="matrix(2.083 0 0 .102 0 1025)">I</text>
</g>
<g transform="translate(4660.2 0)">
<text class="g" transform="matrix(1.92 0 0 1.599 0 711)">S</text>
<text class="k" transform="matrix(2.045 0 0 1.551 0 817.7)">P</text>
<text class="p" transform="matrix(1.94 0 0 .532 0 854.3)">N</text>
<text class="k" transform="matrix(1.563 0 0 .436 0 884.3)">A</text>
<text class="g" transform="matrix(1.679 0 0 .363 0 909.3)">G</text>
<text class="k" transform="matrix(1.63 0 0 .388 0 936)">M</text>
<text class="k" transform="matrix(2.083 0 0 .315 0 957.7)">L</text>
<text class="k" transform="matrix(1.687 0 0 .314 0 979.3)">V</text>
<text class="b" transform="matrix(1.739 0 0 .195 0 992.7)">R</text>
<text class="k" transform="matrix(2.083 0 0 .121 0 1001)">I</text>
<text class="r" transform="matrix(2.083 0 0 .145 0 1011)">E</text>
<text class="b" transform="matrix(1.725 0 0 .097 0 1017.7)">K</text>
<text class="p" transform="matrix(1.585 0 0 .106 0 1025)">Q</text>
</g>
<g transform="translate(4778.6 0)">
<text class="k" transform="matrix(2.083 0 0 1.842 0 727.7)">L</text>
<text class="k" transform="matrix(2.045 0 0 1.283 0 816)">P</text>
<text class="k" transform="matrix(1.63 0 0 1.188 0 897.7)">M</text>
<text class="k" transform="matrix(1.563 0 0 .509 0 932.7)">A</text>
<text class="k" transform="matrix(1.687 0 0 .339 0 956)">V</text>
<text class="p" transform="matrix(1.585 0 0 .243 0 972.7)">Q</text>
<text class="g" transform="matrix(1.97 0 0 .145 0 982.7)">T</text>
<text class="k" transform="matrix(2.083 0 0 .145 0 992.7)">I</text>
<text class="b" transform="matrix(1.94 0 0 .145 0 1002.7)">H</text>
<text class="g" transform="matrix(1.92 0 0 .096 0 1009.3)">S</text>
<text class="g" transform="matrix(1.679 0 0 .073 0 1014.3)">G</text>
<text class="k" transform="matrix(2.083 0 0 .073 0 1019.3)">F</text>
<text class="b" transform="matrix(1.725 0 0 .083 0 1025)">K</text>
</g>
<g transform="translate(4897.1 0)">
<text class="k" transform="matrix(2.045 0 0 4.608 0 918)">P</text>
<text class="k" transform="matrix(1.563 0 0 .31 0 939.3)">A</text>
<text class="b" transform="matrix(1.739 0 0 .291 0 959.3)">R</text>
<text class="k" transform="matrix(1.687 0 0 .195 0 972.7)">Y</text>
<text class="k" transform="matrix(2.083 0 0 .169 0 984.3)">I</text>
<text class="k" transform="matrix(1.63 0 0 .17 0 996)">M</text>
<text class="k" transform="matrix(2.083 0 0 .121 0 1004.3)">L</text>
<text class="b" transform="matrix(1.94 0 0 .097 0 1011)">H</text>
<text class="p" transform="matrix(1.94 0 0 .097 0 1017.7)">N</text>
<text class="g" transform="matrix(1.92 0 0 .106 0 1025)">S</text>
</g>
<g transform="translate(5015.6 0)">
<text class="k" transform="matrix(2.045 0 0 4.975 0 943.3)">P</text>
<text class="g" transform="matrix(1.679 0 0 .282 0 962.7)">G</text>
<text class="k" transform="matrix(1.687 0 0 .241 0 979.3)">V</text>
<text class="k" transform="matrix(1.63 0 0 .243 0 996)">M</text>
<text class="g" transform="matrix(1.97 0 0 .121 0 1004.3)">T</text>
<text class="g" transform="matrix(1.92 0 0 .145 0 1014.3)">S</text>
<text class="k" transform="matrix(1.563 0 0 .097 0 1021)">A</text>
<text class="b" transform="matrix(1.725 0 0 .058 0 1025)">K</text>
</g>
<g transform="translate(5134.1 0)">
<text class="k" transform="matrix(2.045 0 0 5.257 0 962.7)">P</text>
<text class="g" transform="matrix(1.679 0 0 .241 0 979.3)">G</text>
<text class="k" transform="matrix(1.563 0 0 .195 0 992.7)">A</text>
<text class="b" transform="matrix(1.739 0 0 .145 0 1002.7)">R</text>
<text class="g" transform="matrix(1.97 0 0 .096 0 1009.3)">T</text>
<text class="b" transform="matrix(1.94 0 0 .097 0 1016)">H</text>
<text class="k" transform="matrix(1.687 0 0 .073 0 1021)">Y</text>
<text class="p" transform="matrix(1.585 0 0 .058 0 1025)">Q</text>
</g>
<g transform="translate(5252.5 0)">
<text class="k" transform="matrix(2.045 0 0 5.015 0 946)">P</text>
<text class="k" transform="matrix(1.563 0 0 .388 0 972.7)">A</text>
<text class="b" transform="matrix(1.739 0 0 .241 0 989.3)">R</text>
<text class="k" transform="matrix(2.083 0 0 .17 0 1001)">L</text>
<text class="p" transform="matrix(1.94 0 0 .121 0 1009.3)">N</text>
<text class="b" transform="matrix(1.94 0 0 .087 0 1015.3)">H</text>
<text class="g" transform="matrix(1.92 0 0 .141 0 1025)">S</text>
</g>
<g transform="translate(5371 0)">
<text class="k" transform="matrix(2.045 0 0 4.869 0 936)">P</text>
<text class="k" transform="matrix(1.563 0 0 .266 0 954.3)">A</text>
<text class="k" transform="matrix(1.63 0 0 .218 0 969.3)">M</text>
<text class="g" transform="matrix(1.92 0 0 .195 0 982.7)">S</text>
<text class="p" transform="matrix(1.585 0 0 .193 0 996)">Q</text>
<text class="g" transform="matrix(1.679 0 0 .145 0 1006)">G</text>
<text class="k" transform="matrix(2.083 0 0 .116 0 1014)">F</text>
<text class="k" transform="matrix(2.083 0 0 .073 0 1019)">I</text>
<text class="b" transform="matrix(1.94 0 0 .087 0 1025)">H</text>
</g>
<g transform="translate(5489.5 0)">
<text class="g" transform="matrix(1.679 0 0 2.18 0 751)">G</text>
<text class="k" transform="matrix(2.045 0 0 1.188 0 832.7)">P</text>
<text class="k" transform="matrix(1.563 0 0 .581 0 872.7)">A</text>
<text class="k" transform="matrix(1.63 0 0 .411 0 901)">M</text>
<text class="g" transform="matrix(1.92 0 0 .411 0 929.3)">S</text>
<text class="b" transform="matrix(1.739 0 0 .388 0 956)">R</text>
<text class="p" transform="matrix(1.585 0 0 .291 0 976)">Q</text>
<text class="k" transform="matrix(1.687 0 0 .339 0 999.3)">Y</text>
<text class="k" transform="matrix(2.083 0 0 .073 0 1004.3)">I</text>
<text class="p" transform="matrix(1.94 0 0 .122 0 1012.7)">N</text>
<text class="g" transform="matrix(1.97 0 0 .077 0 1018)">T</text>
<text class="b" transform="matrix(1.725 0 0 .102 0 1025)">K</text>
</g>
<g transform="translate(5608 0)">
<text class="g" transform="matrix(1.679 0 0 2.834 0 796)">G</text>
<text class="k" transform="matrix(2.045 0 0 .679 0 842.7)">P</text>
<text class="p" transform="matrix(1.94 0 0 .557 0 881)">N</text>
<text class="k" transform="matrix(1.563 0 0 .436 0 911)">A</text>
<text class="k" transform="matrix(1.687 0 0 .363 0 936)">V</text>
<text class="k" transform="matrix(2.083 0 0 .291 0 956)">L</text>
<text class="g" transform="matrix(1.92 0 0 .193 0 969.3)">S</text>
<text class="k" transform="matrix(1.63 0 0 .195 0 982.7)">M</text>
<text class="p" transform="matrix(1.585 0 0 .145 0 992.7)">Q</text>
<text class="b" transform="matrix(1.739 0 0 .145 0 1002.7)">R</text>
<text class="k" transform="matrix(2.083 0 0 .121 0 1011)">F</text>
<text class="r" transform="matrix(1.875 0 0 .203 0 1025)">D</text>
</g>
<g transform="translate(5726.4 0)">
<text class="k" transform="matrix(1.63 0 0 1.381 0 696)">M</text>
<text class="k" transform="matrix(2.083 0 0 1.356 0 789.3)">L</text>
<text class="k" transform="matrix(2.045 0 0 .849 0 847.7)">P</text>
<text class="k" transform="matrix(2.083 0 0 .677 0 894.3)">I</text>
<text class="k" transform="matrix(1.687 0 0 .558 0 932.7)">V</text>
<text class="g" transform="matrix(1.679 0 0 .291 0 952.7)">G</text>
<text class="k" transform="matrix(1.563 0 0 .241 0 969.3)">A</text>
<text class="p" transform="matrix(1.94 0 0 .195 0 982.7)">N</text>
<text class="b" transform="matrix(1.725 0 0 .145 0 992.7)">K</text>
<text class="k" transform="matrix(2.083 0 0 .121 0 1001)">F</text>
<text class="p" transform="matrix(1.585 0 0 .121 0 1009.3)">Q</text>
<text class="g" transform="matrix(1.97 0 0 .073 0 1014.3)">T</text>
<text class="k" transform="matrix(1.687 0 0 .068 0 1019)">V</text>
<text class="b" transform="matrix(1.94 0 0 .087 0 1025)">H</text>
</g>
<g transform="translate(5844.9 0)">
<text class="k" transform="matrix(2.045 0 0 3.754 0 859.3)">P</text>
<text class="g" transform="matrix(1.92 0 0 .363 0 884.3)">S</text>
<text class="k" transform="matrix(1.687 0 0 .388 0 911)">X</text>
<text class="k" transform="matrix(1.563 0 0 .218 0 926)">A</text>
<text class="p" transform="matrix(1.94 0 0 .291 0 946)">N</text>
<text class="b" transform="matrix(1.94 0 0 .243 0 962.7)">H</text>
<text class="k" transform="matrix(1.63 0 0 .241 0 979.3)">M</text>
<text class="k" transform="matrix(2.083 0 0 .195 0 992.7)">L</text>
<text class="b" transform="matrix(1.739 0 0 .145 0 1002.7)">R</text>
<text class="g" transform="matrix(1.679 0 0 .073 0 1007.7)">G</text>
<text class="r" transform="matrix(2.083 0 0 .121 0 1016)">E</text>
<text class="b" transform="matrix(1.725 0 0 .073 0 1021)">K</text>
<text class="g" transform="matrix(1.97 0 0 .058 0 1025)">T</text>
</g>
<use href="#xt2" class="tk" transform="translate(1985 1008)"/>
<path class="tk" d="M4127 702h20M4127 865h20"/>
<rect class="sp" x="4127" y="597" width="1777" height="431"/>
<text class="lab yl" x="4108" y="723">100</text>
<text class="lab yl" x="4108" y="886">50</text>
<text class="lab yl" x="4108" y="1049">0</text>
<text class="lab" y="1089" x="4186.2 4304.7 4423.2 4541.7 4660.2 4778.6 4897.1 5015.6 5134.1 5252.5 5371 5489.5 5608 5726.4 5844.9">PLPESLPPPPPGGLP</text>
</g>
</svg>
